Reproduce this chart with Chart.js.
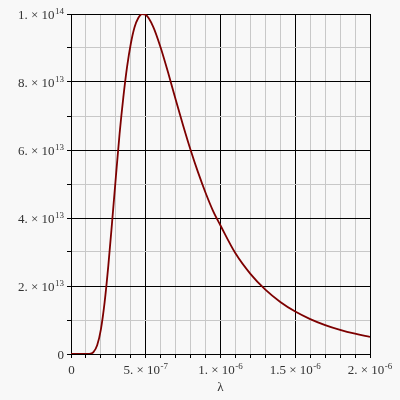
<!DOCTYPE html>
<html>
<head>
<meta charset="utf-8">
<script src="https://cdn.jsdelivr.net/npm/chart.js@4"></script>
<style>
  html, body { margin: 0; padding: 0; background: #f8f8f8; }
  #wrap { width: 400px; height: 400px; }
</style>
</head>
<body>
<div id="wrap"><canvas id="c" width="400" height="400"></canvas></div>
<script>
// Wavelength (m)
const wavelengths = [0, 0.5e-7, 1e-7, 1.2e-7, 1.5e-7, 1.75e-7, 2e-7, 2.25e-7, 2.5e-7, 2.75e-7,
  3e-7, 3.25e-7, 3.5e-7, 3.75e-7, 4e-7, 4.25e-7, 4.5e-7, 4.75e-7, 5e-7, 5.5e-7,
  6e-7, 6.5e-7, 7e-7, 7.5e-7, 8e-7, 8.5e-7, 9e-7, 9.5e-7, 1e-6, 1.1e-6,
  1.2e-6, 1.3e-6, 1.4e-6, 1.5e-6, 1.6e-6, 1.7e-6, 1.8e-6, 1.9e-6, 2e-6];
// Spectral values
const values = [0, 0, 1e9, 3.2e10, 5.6e11, 2.56e12, 7.26e12, 1.526e13, 2.616e13, 3.885e13,
  5.204e13, 6.477e13, 7.548e13, 8.443e13, 9.126e13, 9.61e13, 9.882e13, 1.0e14, 9.976e13, 9.623e13,
  9.008e13, 8.269e13, 7.484e13, 6.721e13, 5.999e13, 5.341e13, 4.744e13, 4.212e13, 3.78e13, 2.961e13,
  2.358e13, 1.892e13, 1.531e13, 1.248e13, 1.027e13, 8.51e12, 7.10e12, 5.97e12, 5.05e12];
// Tick labels (text after ^ is drawn as a superscript)
const yTickValues = [0, 2e13, 4e13, 6e13, 8e13, 1e14];
const yTickLabels = ["0", "2. × 10^13", "4. × 10^13", "6. × 10^13", "8. × 10^13", "1. × 10^14"];
const xTickValues = [0, 5e-7, 1e-6, 1.5e-6, 2e-6];
const xTickLabels = ["0", "5. × 10^-7", "1. × 10^-6", "1.5 × 10^-6", "2. × 10^-6"];
const xAxisTitle = "λ";

const pts = wavelengths.map((x, i) => ({x: x, y: values[i]}));
const FAM = "'Liberation Serif', 'DejaVu Serif', serif";
const TXT = '#333';

const labelPlugin = {
  id: 'labels',
  afterDraw(chart) {
    const ctx = chart.ctx, xs = chart.scales.x, ys = chart.scales.y;
    ctx.save();
    ctx.fillStyle = TXT;
    ctx.textBaseline = 'alphabetic';
    const parts = (s) => s.split('^');
    const measure = (s) => {
      const [b, e] = parts(s);
      ctx.font = '13px ' + FAM; let w = ctx.measureText(b).width;
      if (e) { ctx.font = '9px ' + FAM; w += ctx.measureText(e).width + 0.5; }
      return w;
    };
    const draw = (s, left, baseY) => {
      const [b, e] = parts(s);
      ctx.textAlign = 'left';
      ctx.font = '13px ' + FAM; ctx.fillText(b, left, baseY);
      if (e) { const bw = ctx.measureText(b).width; ctx.font = '9px ' + FAM; ctx.fillText(e, left + bw + 0.5, baseY - 5); }
    };
    // y labels, right aligned at x = 63
    yTickValues.forEach((v, i) => {
      const y = ys.getPixelForValue(v);
      const w = measure(yTickLabels[i]);
      draw(yTickLabels[i], 64 - w, y + 4.5);
    });
    // x labels, centred on tick
    xTickValues.forEach((v, i) => {
      const x = xs.getPixelForValue(v);
      const w = measure(xTickLabels[i]);
      draw(xTickLabels[i], x - w / 2 + (i === 0 ? 0.5 : 0), 373.5);
    });
    // axis title
    ctx.font = '13px ' + FAM; ctx.textAlign = 'center';
    ctx.fillText(xAxisTitle, (xs.left + xs.right) / 2, 391);
    ctx.restore();
  }
};

new Chart(document.getElementById('c'), {
  type: 'line',
  data: { datasets: [{ data: pts, borderColor: '#7d0000', borderWidth: 1.8, pointRadius: 0,
    cubicInterpolationMode: 'monotone', fill: false }] },
  options: {
    responsive: false, animation: false,
    layout: { padding: { left: 0, right: 30, top: 14, bottom: 0 } },
    plugins: { legend: { display: false }, tooltip: { enabled: false } },
    scales: {
      x: {
        type: 'linear', min: 0, max: 2e-6,
        afterBuildTicks: (s) => { s.ticks = []; for (let i = 0; i <= 20; i++) s.ticks.push({value: i * 1e-7}); },
        afterFit: (s) => { s.height = 46; },
        ticks: { autoSkip: false, maxRotation: 0, minRotation: 0, callback: () => '' },
        grid: { color: (ctx) => { const n = Math.round(ctx.tick.value / 1e-7); return n % 5 === 0 ? '#000' : '#c8c8c8'; },
          lineWidth: 1, tickLength: 4, tickColor: '#000' },
        border: { color: '#000', width: 1 }
      },
      y: {
        type: 'linear', min: 0, max: 1e14,
        afterBuildTicks: (s) => { s.ticks = []; for (let i = 0; i <= 10; i++) s.ticks.push({value: i * 1e13}); },
        afterFit: (s) => { s.width = 71; },
        ticks: { autoSkip: false, callback: () => '' },
        grid: { color: (ctx) => { const n = Math.round(ctx.tick.value / 1e13); return n % 2 === 0 ? '#000' : '#c8c8c8'; },
          lineWidth: 1, tickLength: 4, tickColor: '#000' },
        border: { color: '#000', width: 1 }
      }
    }
  },
  plugins: [labelPlugin]
});
</script>
</body>
</html>
